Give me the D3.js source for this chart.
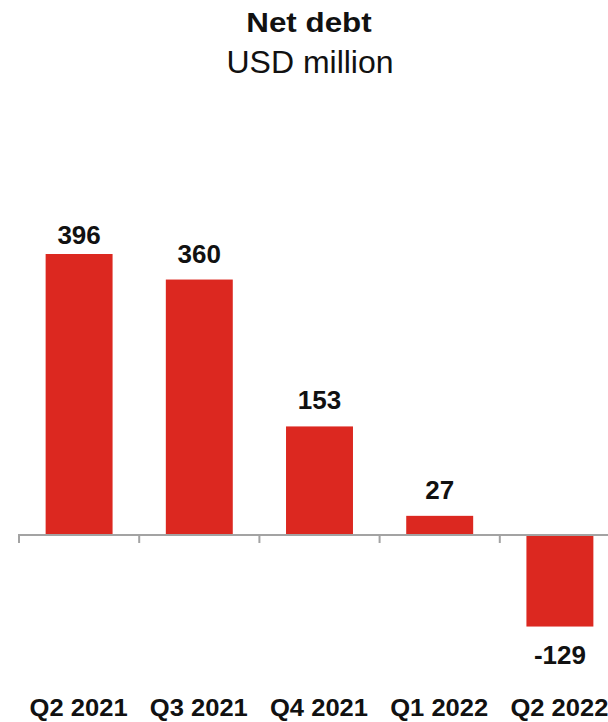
<!DOCTYPE html>
<html>
<head>
<meta charset="utf-8">
<script src="https://cdn.jsdelivr.net/npm/d3@7"></script>
<style>
  html, body { margin: 0; padding: 0; background: #fff; }
  svg { display: block; font-family: "Liberation Sans", Arial, Helvetica, sans-serif; }
</style>
</head>
<body>
<svg id="chart" width="608" height="722"></svg>
<script>
// Quarterly net debt, USD million
const quarters = ["Q2 2021", "Q3 2021", "Q4 2021", "Q1 2022", "Q2 2022"];
const netDebt = [396, 360, 153, 27, -129];
const titleText = "Net debt";
const subtitleText = "USD million";

const W = 608, H = 722;
const svg = d3.select("#chart");

const x = d3.scaleBand()
  .domain(quarters)
  .range([19, 620])
  .paddingInner(0.443)
  .paddingOuter(0.2215);

const y = d3.scaleLinear()
  .domain([-150, 400])
  .range([535 + 150 * 0.7096, 535 - 400 * 0.7096]);

const red = "#dc2820";
const ink = "#111";

// Title block (slightly widened lettering)
svg.append("text")
  .attr("transform", "translate(309,32) scale(1.12,1)")
  .attr("text-anchor", "middle")
  .attr("font-size", 28).attr("font-weight", "bold")
  .attr("fill", ink)
  .text(titleText);
svg.append("text")
  .attr("x", 310).attr("y", 73)
  .attr("text-anchor", "middle")
  .attr("font-size", 32)
  .attr("fill", ink)
  .text(subtitleText);

const data = quarters.map((q, i) => ({ q, v: netDebt[i] }));

// Bars
svg.append("g").selectAll("rect")
  .data(data)
  .join("rect")
  .attr("x", d => x(d.q))
  .attr("width", x.bandwidth())
  .attr("y", d => Math.min(y(d.v), y(0)))
  .attr("height", d => Math.abs(y(d.v) - y(0)))
  .attr("fill", red);

// Zero axis with tick marks on band boundaries
const boundaries = d3.range(quarters.length + 1).map(i => 19 + i * x.step());
const axis = svg.append("g").attr("stroke", "#a3a3a3").attr("stroke-width", 2);
axis.append("line")
  .attr("x1", 18).attr("x2", W)
  .attr("y1", y(0)).attr("y2", y(0));
axis.selectAll("line.tick")
  .data(boundaries)
  .join("line")
  .attr("class", "tick")
  .attr("x1", d => d).attr("x2", d => d)
  .attr("y1", y(0)).attr("y2", y(0) + 8);

// Value labels
svg.append("g").selectAll("text")
  .data(data)
  .join("text")
  .attr("x", d => x(d.q) + x.bandwidth() / 2)
  .attr("y", d => d.v >= 0 ? Math.max(y(d.v) - 17, 244) : y(d.v) + 37)
  .attr("text-anchor", "middle")
  .attr("font-size", 26).attr("font-weight", "bold")
  .attr("fill", ink)
  .text(d => String(d.v));

// Category labels (slightly widened lettering)
svg.append("g").selectAll("text")
  .data(quarters)
  .join("text")
  .attr("transform", d => `translate(${x(d) + x.bandwidth() / 2 - 0.5},716) scale(1.065,1)`)
  .attr("text-anchor", "middle")
  .attr("font-size", 24).attr("font-weight", "bold")
  .attr("fill", ink)
  .text(d => d);
</script>
</body>
</html>
